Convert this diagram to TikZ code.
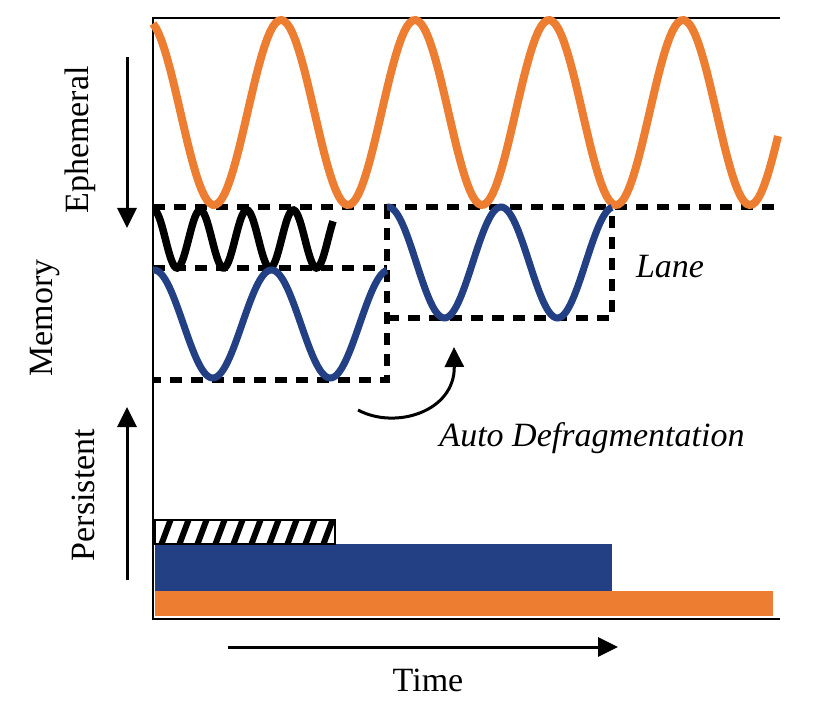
\documentclass[tikz,border=0pt]{standalone}
\usepackage{fontspec}
\setmainfont{Liberation Serif}
\usetikzlibrary{arrows.meta}
\definecolor{waveorange}{RGB}{237,125,49}
\definecolor{waveblue}{RGB}{36,64,132}
\tikzset{
    axisline/.style={line width=2.5pt, black},
    axisarrow/.style={-{Triangle[length=20pt, width=19pt]}, line width=3pt},
    lanebox/.style={line width=5.5pt, dash pattern=on 12pt off 9pt},
    orangewave/.style={line width=8pt, color=waveorange},
    bluewave/.style={line width=7pt, color=waveblue},
    blackwave/.style={line width=7.5pt, black},
    biglabel/.style={font=\fontsize{34}{40}\selectfont, inner sep=0pt},
    sidelabel/.style={biglabel, rotate=90},
    notelabel/.style={inner sep=0pt, font=\fontsize{34}{40}\selectfont\itshape}
}

\begin{document}
\begin{tikzpicture}[x=1pt, y=-1pt]
    \useasboundingbox (0,0) rectangle (830,708);
    % axes
    \draw[axisline] (153,17) -- (153,620);
    \draw[axisline] (152,18) -- (780,18);
    \draw[axisline] (152,619) -- (780,619);
    % persistent bars
    \fill[waveorange] (155,591) rectangle (773,616);
    \fill[waveblue] (155,544) rectangle (612,591);
    \begin{scope}
        \clip (155,520) rectangle (335,544);
        \foreach \i in {0,...,12}
            \draw[line width=6pt] (142+18*\i,548) -- (154+18*\i,516);
    \end{scope}
    \draw[line width=2pt] (155,520) rectangle (335,544);
    % lanes
    \draw[lanebox] (153,207) -- (780,207);
    \draw[lanebox] (153,268) -- (387,268);
    \draw[lanebox] (387,207) -- (387,380) -- (153,380);
    \draw[lanebox] (387,318) -- (612,318) -- (612,207);
    % waves
    \draw[orangewave] plot[domain=153:778, samples=220] (\x,{112.5+92.5*cos((\x-214)/134*360)});
    \draw[blackwave] plot[domain=153:333, samples=120] (\x,{239+29*cos((\x-177)/46.5*360)});
    \draw[bluewave] plot[domain=153:387, samples=120] (\x,{324-54*cos((\x-154)/117.5*360)});
    \draw[bluewave] plot[domain=387:612, samples=120] (\x,{262.5-55.5*cos((\x-388)/113*360)});
    % labels
    \node[sidelabel] (ephlabel) at (80,140) {Ephemeral};
    \node[sidelabel] (memlabel) at (45,318) {Memory};
    \node[sidelabel] (perslabel) at (83,495) {Persistent};
    \node[biglabel] (timelabel) at (428,680) {Time};
    \node[notelabel] (lanelabel) at (670,267) {Lane};
    \node[notelabel] (defraglabel) at (592,438) {Auto Defragmentation};
    \coordinate (ephtop) at (127,57);
    \coordinate (ephbot) at (127,228);
    \coordinate (persbot) at (127,580);
    \coordinate (perstop) at (127,407);
    \coordinate (timestart) at (228,647);
    \coordinate (timeend) at (618,647);
    \coordinate (defragfrom) at (358,410);
    \coordinate (defragto) at (454,347);
    \draw[axisarrow] (ephtop) -- (ephbot);
    \draw[axisarrow] (persbot) -- (perstop);
    \draw[axisarrow] (timestart) -- (timeend);
    \draw[axisarrow] (defragfrom) .. controls (395,430) and (455,412) .. (defragto);
\end{tikzpicture}
\end{document}
